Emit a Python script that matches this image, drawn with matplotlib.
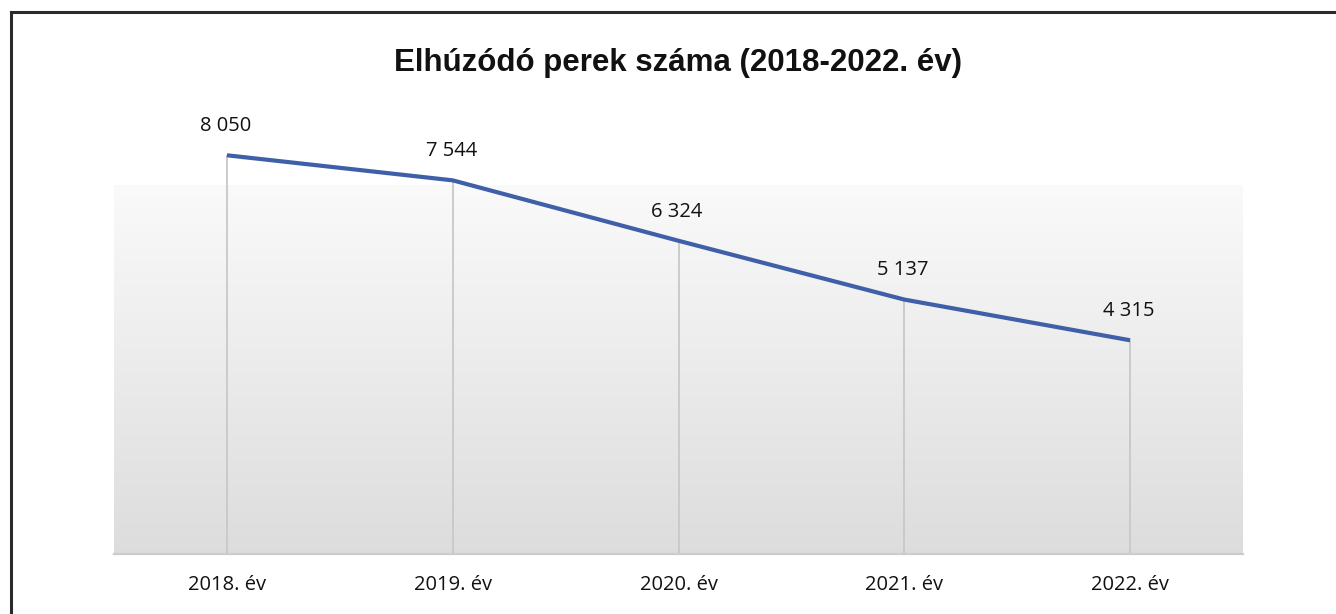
import matplotlib
matplotlib.use("Agg")
import matplotlib.pyplot as plt
import numpy as np
from matplotlib.lines import Line2D

categories = ["2018. év", "2019. év", "2020. év", "2021. év", "2022. év"]
values = [8050, 7544, 6324, 5137, 4315]
label_texts = ["8 050", "7 544", "6 324", "5 137", "4 315"]
title = "Elhúzódó perek száma (2018-2022. év)"

W, H = 1336, 614
fig = plt.figure(figsize=(W / 100, H / 100), dpi=100)
fig.patch.set_facecolor("white")

ax = fig.add_axes([114 / W, 1 - 554 / H, (1243 - 114) / W, (554 - 185) / H])
x = np.arange(len(categories))
ax.set_xlim(-0.5, len(categories) - 0.5)
ax.set_ylim(0, 7450)

# gradient background
grad = np.linspace(0, 1, 256).reshape(-1, 1)
top = np.array([0.98, 0.98, 0.98])
bot = np.array([0.865, 0.865, 0.865])
img = top + (bot - top) * grad[:, :, None] * np.ones((1, 1, 3))
ax.imshow(img, extent=[0, 1, 0, 1], transform=ax.transAxes, aspect="auto", zorder=0)

for s in ["top", "right", "left"]:
    ax.spines[s].set_visible(False)
ax.spines["bottom"].set_color("#cccccc")
ax.spines["bottom"].set_linewidth(1.6)
ax.spines["bottom"].set_zorder(3)

ax.vlines(x, 0, values, colors="#c8c8c8", linewidth=1.3, zorder=1, clip_on=False)
ax.plot(x, values, color="#3f5fa8", linewidth=3.0, zorder=4, clip_on=False,
        solid_capstyle="butt", solid_joinstyle="round")

for xi, v, t in zip(x, values, label_texts):
    ax.annotate(t, (xi, v), xytext=(-1, 21), textcoords="offset points",
                ha="center", va="center", fontsize=14.5, family="Open Sans",
                color="#111111", annotation_clip=False)

ax.set_yticks([])
ax.set_xticks(x)
ax.set_xticklabels(categories, fontsize=14.5, family="Open Sans", color="#111111")
ax.tick_params(axis="x", length=0, pad=15)

fig.text(678 / W, 1 - 63 / H, title, ha="center", va="center",
         fontsize=22.5, fontweight="bold", family="Liberation Sans", color="#111111")

# frame lines (left and top)
lx = 10.5 / W
ty = 1 - 11.5 / H
fig.add_artist(Line2D([lx, lx], [0, ty], transform=fig.transFigure, color="#2a2a2a", linewidth=2.2))
fig.add_artist(Line2D([lx, 1], [ty, ty], transform=fig.transFigure, color="#2a2a2a", linewidth=2.2))

fig.savefig("out.png", dpi=100)
